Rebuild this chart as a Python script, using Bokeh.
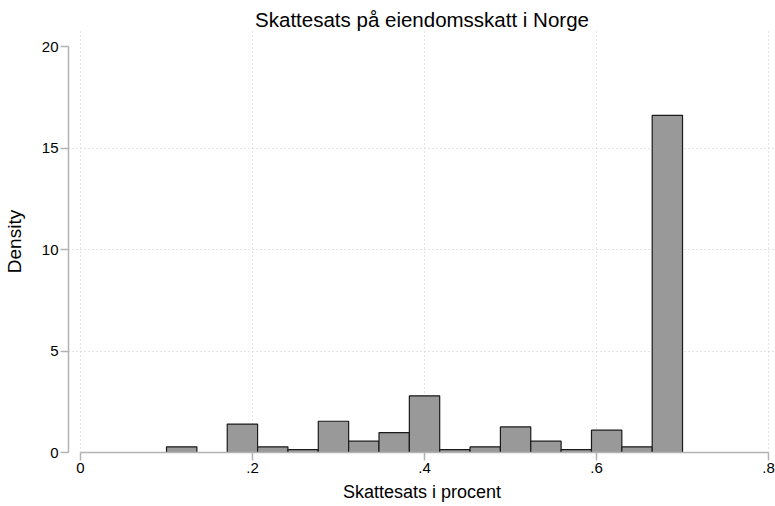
import numpy as np
from bokeh.plotting import figure
from bokeh.models import Range1d, FixedTicker, ColumnDataSource
from bokeh.embed import file_html
from bokeh.resources import INLINE

# Histogram data (density per bin), 17 equal bins from 0.1 to 0.7
bin_lo = 0.1
bin_hi = 0.7
n_bins = 17
density = [0.28, 0.0, 1.40, 0.28, 0.14, 1.54, 0.56, 0.98, 2.79,
           0.14, 0.28, 1.26, 0.56, 0.14, 1.10, 0.28, 16.61]

x_ticks = [0, 0.2, 0.4, 0.6, 0.8]
x_tick_labels = ["0", ".2", ".4", ".6", ".8"]
y_ticks = [0, 5, 10, 15, 20]

edges = np.linspace(bin_lo, bin_hi, n_bins + 1)
src = ColumnDataSource(dict(left=edges[:-1], right=edges[1:], top=density,
                            bottom=[0] * n_bins))

FONT = "Liberation Sans"

p = figure(width=775, height=506, output_backend="svg", toolbar_location=None,
           x_range=Range1d(-0.01397, 0.8081), y_range=Range1d(0, 20.79),
           title="Skattesats på eiendomsskatt i Norge")
p.min_border_left = 68
p.min_border_right = 0
p.min_border_top = 30
p.min_border_bottom = 54
p.outline_line_color = None
p.background_fill_color = "white"
p.border_fill_color = "white"

p.title.align = "center"
p.title.text_font = FONT
p.title.text_font_size = "20.5px"
p.title.text_font_style = "normal"
p.title.text_color = "#000000"
p.title.standoff = 0

p.quad(left="left", right="right", top="top", bottom="bottom", source=src,
       fill_color="#999999", line_color="#1a1a1a", line_width=1.2)

for ax in (p.xaxis[0], p.yaxis[0]):
    ax.axis_line_color = "#b3b3b3"
    ax.axis_line_width = 1.5
    ax.major_tick_line_color = "#b3b3b3"
    ax.major_tick_line_width = 1.5
    ax.major_tick_out = 8
    ax.major_tick_in = 0
    ax.minor_tick_out = 0
    ax.minor_tick_in = 0
    ax.major_label_text_font = FONT
    ax.major_label_text_font_size = "15px"
    ax.major_label_text_color = "#000000"
    ax.axis_label_text_font = FONT
    ax.axis_label_text_font_style = "normal"
    ax.axis_label_text_color = "#000000"
    ax.major_label_standoff = 2

p.xaxis.ticker = FixedTicker(ticks=x_ticks)
p.xaxis.major_label_overrides = {t: l for t, l in zip(x_ticks, x_tick_labels)}
p.xaxis.bounds = (0, 0.8)
p.xaxis.axis_label = "Skattesats i procent"
p.xaxis.axis_label_text_font_size = "18px"
p.xaxis.axis_label_standoff = 6

p.yaxis.ticker = FixedTicker(ticks=y_ticks)
p.yaxis.bounds = (0, 20)
p.yaxis.axis_label = "Density"
p.yaxis.axis_label_text_font_size = "19px"
p.yaxis.axis_label_standoff = 14

p.xgrid.ticker = FixedTicker(ticks=x_ticks)
p.ygrid.ticker = FixedTicker(ticks=[5, 10, 15])
for g in (p.xgrid[0], p.ygrid[0]):
    g.grid_line_color = "#c8c8c8"
    g.grid_line_dash = "1 3"
    g.grid_line_width = 1

open("out.html", "w").write(file_html(p, INLINE))
